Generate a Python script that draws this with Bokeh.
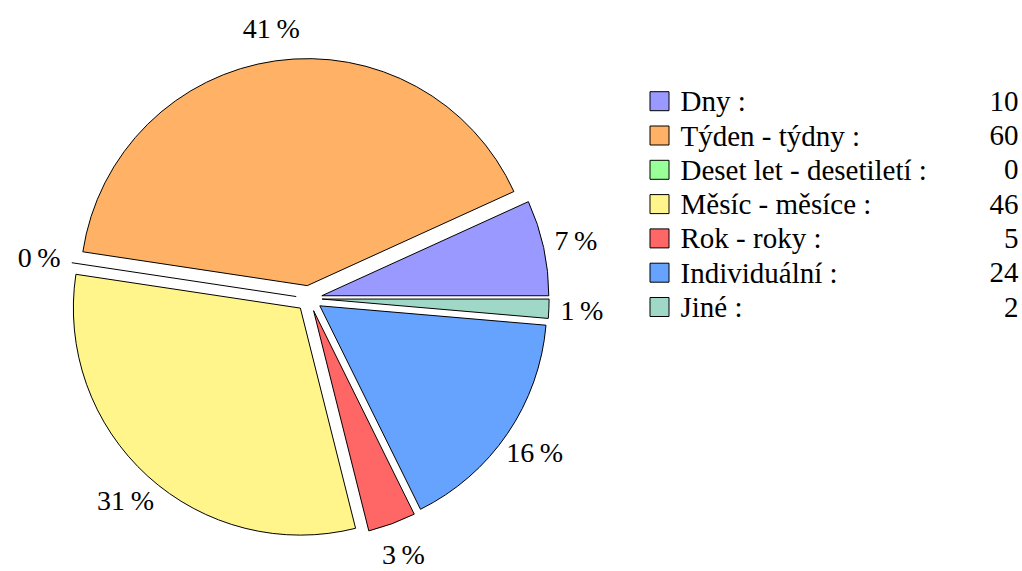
import numpy as np
from bokeh.plotting import figure
from bokeh.models import Range1d, ColumnDataSource
from bokeh.core.properties import value
from bokeh.embed import file_html
from bokeh.resources import INLINE

categories = ["Dny", "Týden - týdny", "Deset let - desetiletí", "Měsíc - měsíce",
              "Rok - roky", "Individuální", "Jiné"]
counts = [10, 60, 0, 46, 5, 24, 2]
colors = ["#9999ff", "#ffb266", "#99ff99", "#fff58a", "#ff6666", "#66a3ff", "#a0d8c8"]

FONT = value("Liberation Serif")
FS = "29px"
PFS = "28px"

W, H = 1022, 571
p = figure(width=W, height=H, x_range=Range1d(0, W), y_range=Range1d(0, H),
           output_backend="svg", toolbar_location=None, min_border=0)
p.axis.visible = False
p.grid.visible = False
p.outline_line_color = None
p.background_fill_color = "white"

cx, cy = 308.6, 273.0
R = 227.0
EXPLODE = 13.0
LAB_D = 273.0

vals = np.array(counts, dtype=float)
total = vals.sum()
ang = vals / total * 2 * np.pi
end = np.cumsum(ang)
start = end - ang
mid = (start + end) / 2
ox = cx + EXPLODE * np.cos(mid)
oy = cy + EXPLODE * np.sin(mid)

nz = vals > 0
src = ColumnDataSource(dict(x=ox[nz], y=oy[nz], s=start[nz], e=end[nz],
                            c=[c for c, k in zip(colors, nz) if k]))
p.wedge(x="x", y="y", radius=R, start_angle="s", end_angle="e", source=src,
        fill_color="c", line_color="black", line_width=1)

# zero-value slices drawn as a single edge
z = ~nz
p.segment(x0=ox[z], y0=oy[z], x1=ox[z] + R * np.cos(mid[z]), y1=oy[z] + R * np.sin(mid[z]),
          line_color="black", line_width=1)

pct = [f"{int(round(100 * v / total))}\u2009%" for v in vals]
lx = cx + LAB_D * np.cos(mid)
ly = cy + LAB_D * np.sin(mid)
p.text(x=lx, y=ly, text=pct, text_font=FONT, text_font_size=PFS,
       text_align="center", text_baseline="middle", text_color="black")

# legend
n = len(categories)
row_y = H - (100.7 + 34.3 * np.arange(n))
p.rect(x=[659] * n, y=row_y, width=19, height=19, fill_color=colors,
       line_color="black", line_width=1)
p.text(x=[680] * n, y=row_y, text=[c + " :" for c in categories],
       text_font=FONT, text_font_size=FS, text_align="left",
       text_baseline="middle", text_color="black")
p.text(x=[1018] * n, y=row_y, text=[str(v) for v in counts],
       text_font=FONT, text_font_size=FS, text_align="right",
       text_baseline="middle", text_color="black")

open("out.html", "w").write(file_html(p, INLINE))
